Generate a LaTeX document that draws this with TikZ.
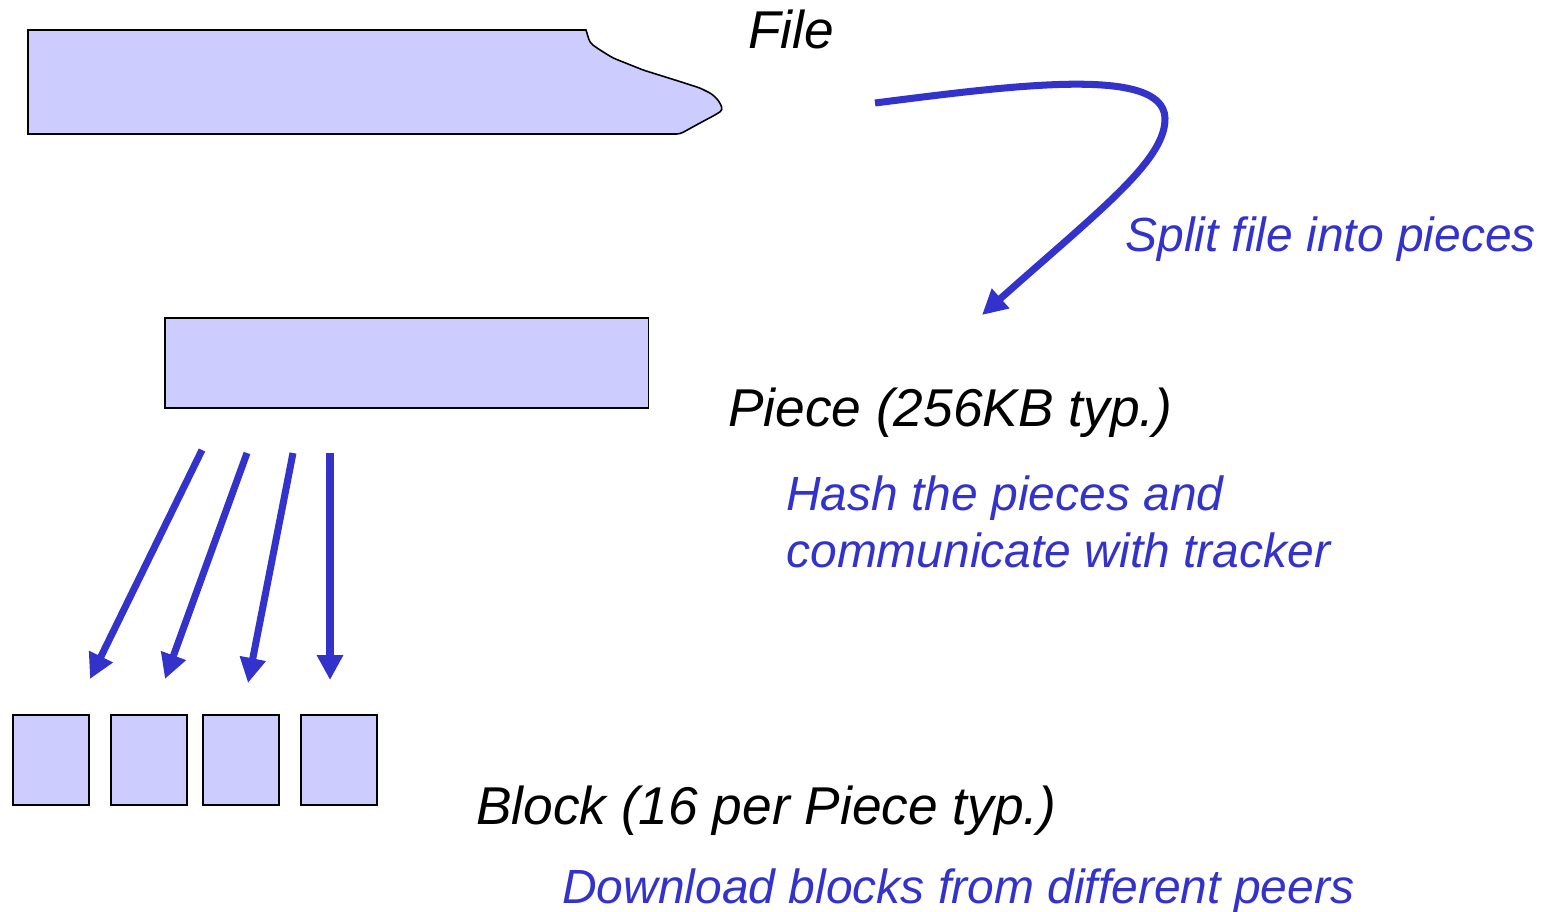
\documentclass[tikz,border=0pt]{standalone}
\usepackage{fontspec}
\setmainfont{Liberation Sans}
\usetikzlibrary{arrows.meta}
\definecolor{btblue}{RGB}{51,51,204}
\definecolor{btfill}{RGB}{204,204,255}
\tikzset{
  chunk/.style={draw=black, line width=0.9pt, fill=btfill, inner sep=0pt, anchor=north west},
  splitarrow/.style={btblue, line width=4pt, -{Triangle[length=5mm, width=5mm]}},
  blacklabel/.style={anchor=base west, inner sep=0pt, font=\fontsize{30.3}{36}\selectfont\itshape},
  bluelabel/.style={anchor=base west, inner sep=0pt, text=btblue, align=left, font=\fontsize{27.3}{32.4}\selectfont\itshape}
}
\begin{document}
\begin{tikzpicture}[x=0.02cm, y=-0.02cm]
\useasboundingbox (0,0) rectangle (1543,912);
% the whole file
\draw[black, line width=0.9pt, fill=btfill] (28,30) -- (586,30) [rounded corners=2pt] -- (590,43) -- (600,50) -- (613,58)
  -- (643,70) -- (675,80) -- (700,88) -- (712,94) -- (719,101) -- (723,110) -- (715,115) -- (700,123) -- (680,134)
  [sharp corners] -- (28,134) -- cycle;
\node[blacklabel] (file) at (748,49) {File};
% split arrow
\coordinate (splitstart) at (875,103);
\coordinate (splitend) at (982,315);
\draw[splitarrow] (splitstart) .. controls (1010,86) and (1163,65) .. (1165,118)
  .. controls (1166,160) and (1100,210) .. (splitend);
\node[bluelabel] (split) at (1125,252) {Split file into pieces};
% one piece
\node[chunk, minimum width=9.68cm, minimum height=1.8cm] (piece) at (164,317) {};
\node[blacklabel] (piecelbl) at (728,427) {Piece (256KB typ.)};
\node[bluelabel] (hash) at (786,567) {Hash the pieces and\\communicate with tracker};
% blocks
\node[chunk, minimum width=1.52cm, minimum height=1.8cm] (b1) at (12,714) {};
\node[chunk, minimum width=1.52cm, minimum height=1.8cm] (b2) at (110,714) {};
\node[chunk, minimum width=1.52cm, minimum height=1.8cm] (b3) at (202,714) {};
\node[chunk, minimum width=1.52cm, minimum height=1.8cm] (b4) at (300,714) {};
\coordinate (s1) at (202,450); \coordinate (e1) at (90,679);
\coordinate (s2) at (247,453); \coordinate (e2) at (165,679);
\coordinate (s3) at (293,453); \coordinate (e3) at (248,683);
\coordinate (s4) at (330,453); \coordinate (e4) at (330,680);
\foreach \i in {1,...,4}
  \draw[splitarrow] (s\i) -- (e\i);
\node[blacklabel] (blocklbl) at (476,824) {Block (16 per Piece typ.)};
\node[bluelabel] (download) at (562,903) {Download blocks from different peers};
\end{tikzpicture}
\end{document}
